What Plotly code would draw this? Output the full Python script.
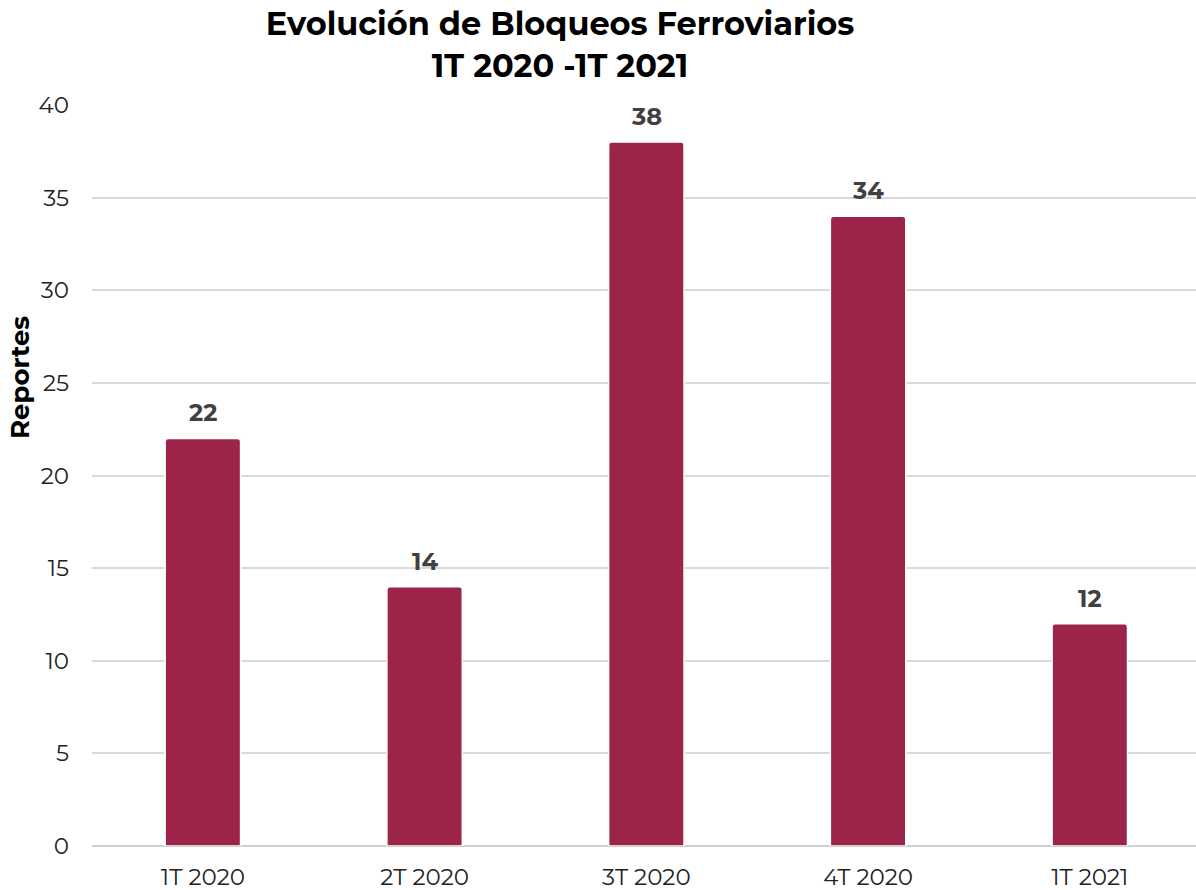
import plotly.graph_objects as go

categories = ["1T 2020", "2T 2020", "3T 2020", "4T 2020", "1T 2021"]
values = [22, 14, 38, 34, 12]
y_ticks = [0, 5, 10, 15, 20, 25, 30, 35, 40]

font_family = "Montserrat, Lato, 'Open Sans', sans-serif"

fig = go.Figure(
    go.Bar(
        x=categories,
        y=values,
        marker=dict(color="#9B2448", line=dict(color="white", width=1.5), cornerradius=3),
        width=0.34,
        cliponaxis=False,
    )
)

for c, v in zip(categories, values):
    fig.add_annotation(
        x=c, y=v, text=f"<b>{v}</b>", showarrow=False,
        yanchor="bottom", yshift=9,
        font=dict(family=font_family, size=24, color="#404040"),
    )

# y-axis title (placed above the plot's vertical centre, as in the reference)
fig.add_annotation(
    text="<b>Reportes</b>", textangle=-90, showarrow=False,
    xref="paper", yref="paper", x=-0.0652, y=0.6316,
    xanchor="center", yanchor="middle",
    font=dict(family=font_family, size=26, color="black"),
)

fig.update_layout(
    width=1196,
    height=890,
    margin=dict(l=92, r=0, t=105, b=44, autoexpand=False),
    paper_bgcolor="white",
    plot_bgcolor="white",
    showlegend=False,
    title=dict(
        text="<b>Evolución de Bloqueos Ferroviarios<br>1T 2020 -1T 2021</b>",
        x=560 / 1196,
        xanchor="center",
        xref="container",
        y=0.967,
        yanchor="top",
        yref="container",
        pad=dict(t=6),
        font=dict(family=font_family, size=32, color="black"),
    ),
    font=dict(family=font_family, size=23, color="#222222"),
)

fig.update_xaxes(
    automargin=False,
    range=[-0.5, 4.479],
    showgrid=False,
    showline=False,
    ticks="",
    ticklabelstandoff=15,
    tickfont=dict(size=23, color="#222222"),
)
fig.update_yaxes(
    automargin=False,
    range=[0, 40],
    tickvals=y_ticks,
    showgrid=True,
    gridcolor="#D9D9D9",
    gridwidth=1.5,
    zeroline=True,
    zerolinecolor="#D0D0D0",
    zerolinewidth=1.5,
    ticks="",
    ticklabelstandoff=22,
    tickfont=dict(size=23, color="#222222"),
)

fig.write_html(
    "out.html",
    config={"displayModeBar": False},
    post_script="document.body.style.margin='0';document.body.style.overflow='hidden';",
)
